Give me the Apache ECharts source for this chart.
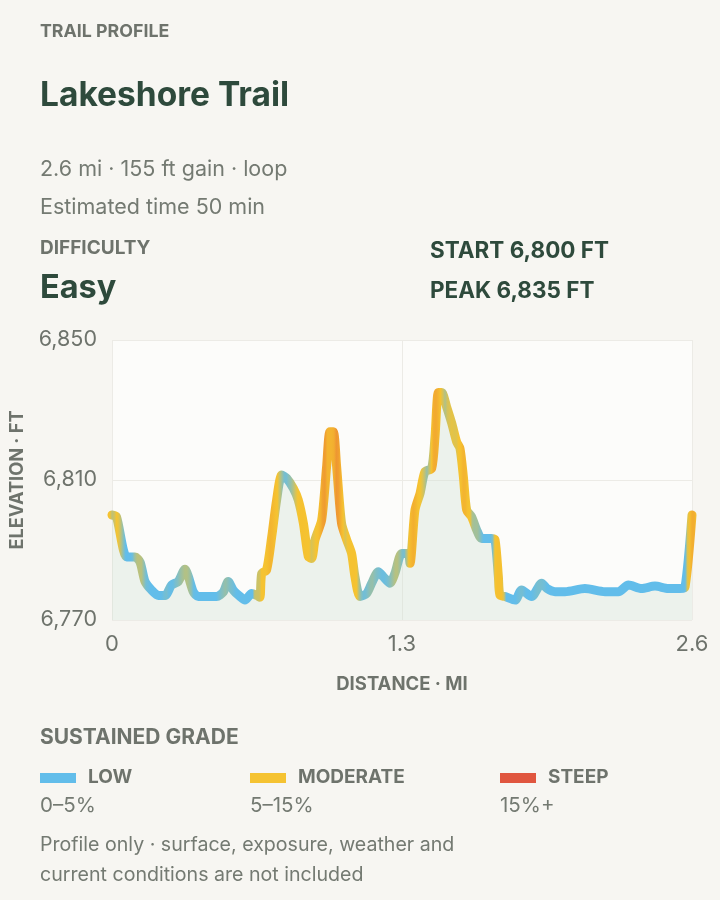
<!DOCTYPE html>
<html>
<head>
<meta charset="utf-8">
<script src="https://cdn.jsdelivr.net/npm/echarts@6/dist/echarts.min.js"></script>
<style>
html,body{margin:0;padding:0;background:#f7f6f2;}
#c{width:720px;height:900px;}
</style>
</head>
<body>
<div id="c"></div>
<script>
// distance along trail (mi)
const distance = [0.000,0.020,0.066,0.103,0.126,0.148,0.178,0.208,0.238,0.267,0.297,0.327,0.342,0.365,0.387,0.432,0.469,0.499,0.521,0.544,0.574,0.596,0.626,0.650,0.663,0.671,0.693,0.716,0.738,0.761,0.783,0.813,0.835,0.858,0.880,0.895,0.910,0.940,0.962,0.977,0.992,1.007,1.029,1.052,1.074,1.089,1.112,1.142,1.164,1.194,1.216,1.246,1.268,1.299,1.328,1.336,1.358,1.381,1.403,1.433,1.448,1.463,1.478,1.500,1.523,1.545,1.560,1.575,1.590,1.612,1.635,1.657,1.701,1.717,1.732,1.739,1.762,1.807,1.836,1.881,1.926,1.950,1.986,2.031,2.120,2.210,2.270,2.315,2.374,2.434,2.494,2.546,2.569,2.600];
// elevation (ft)
const elevation = [6800,6799.5,6788,6788,6786.5,6781,6778.5,6777,6777,6780,6781,6784.5,6782.5,6778,6776.7,6776.7,6776.7,6778,6781,6778.5,6776.7,6775.7,6777.6,6777,6776.5,6783.3,6784.3,6793.8,6804.3,6811.4,6810.5,6807.6,6804.3,6797.6,6788.1,6787.6,6792.9,6798.6,6813.8,6823.8,6823.8,6813.8,6797.6,6792.9,6789,6782.4,6776.7,6777.6,6780.5,6783.8,6782.4,6780.5,6783.3,6789,6789,6786.2,6801.4,6806.2,6812.4,6813.3,6822.4,6835,6835,6830.9,6826.2,6820.9,6819,6811,6801.4,6799.5,6795.7,6793.3,6793.3,6792.9,6782.4,6777.1,6776.7,6775.7,6778.6,6776.7,6780.5,6779,6778.1,6778.1,6779,6778.1,6778.1,6780,6779,6779.7,6779,6779,6779.5,6800];
const xTicks = [0, 1.3, 2.6];
const yTicks = [6770, 6810, 6850];
const gradeBands = [
  {name:'LOW', range:'0–5%', color:'#62bdea'},
  {name:'MODERATE', range:'5–15%', color:'#f5c332'},
  {name:'STEEP', range:'15%+', color:'#e0563f'}
];

// colour ramp for sustained grade (%)
const ramp = [[0,[98,189,234]],[1,[98,189,234]],[4.5,[245,196,50]],[7,[245,192,48]],[10.5,[240,160,48]],[18,[224,86,63]]];
function gradeColor(g){
  if(g<=ramp[0][0]) return 'rgb('+ramp[0][1].join(',')+')';
  for(let i=1;i<ramp.length;i++){
    if(g<=ramp[i][0]){
      const t=(g-ramp[i-1][0])/(ramp[i][0]-ramp[i-1][0]);
      const a=ramp[i-1][1], b=ramp[i][1];
      return 'rgb('+a.map((v,k)=>Math.round(v+(b[k]-v)*t)).join(',')+')';
    }
  }
  return 'rgb('+ramp[ramp.length-1][1].join(',')+')';
}
const total = distance[distance.length-1];
// loop trail: positions wrap around start/end
function elevAt(d){
  if(d<0) d+=total;
  if(d>total) d-=total;
  for(let i=1;i<distance.length;i++){
    if(d<=distance[i]){
      const t=(d-distance[i-1])/(distance[i]-distance[i-1]);
      return elevation[i-1]+(elevation[i]-elevation[i-1])*t;
    }
  }
  return elevation[elevation.length-1];
}
// sustained grade: mean absolute slope within a window around each position
const W = 0.022, STEP = 0.0025;
const stops = [];
for(let k=0; k<=260; k++){
  const d = k*total/260;
  let absChange=0;
  for(let s=d-W; s<d+W-1e-9; s+=STEP){
    const s2=Math.min(d+W,s+STEP);
    absChange+=Math.abs(elevAt(s2)-elevAt(s));
  }
  const g=absChange/(2*W*5280)*100;
  stops.push({offset:k/260, color:gradeColor(g)});
}

const chart = echarts.init(document.getElementById('c'), null, {renderer:'canvas'});
const FONT = 'Inter, "Noto Sans", sans-serif';
const GREY = '#6e736c', DARK = '#2e4a3c', SUB = '#747a72';
const graphics = [];
function txt(text,x,y,size,weight,fill){
  graphics.push({type:'text', x:x, y:y, style:{text:text, fontSize:size, fontWeight:weight, fontFamily:FONT, fill:fill, verticalAlign:'middle', align:'left'}});
}
txt('TRAIL PROFILE',40,32,17.8,'bold',GREY);
txt('Lakeshore Trail',40,96,33.5,'bold',DARK);
txt('2.6 mi · 155 ft gain · loop',40,170,21.5,'normal',SUB);
txt('Estimated time 50 min',40,208,21.5,'normal',SUB);
txt('DIFFICULTY',40,248,19,'bold',GREY);
txt('Easy',40,288,32.5,'bold',DARK);
txt('START 6,800 FT',430,251,22.5,'bold',DARK);
txt('PEAK 6,835 FT',430,291,22.5,'bold',DARK);
txt('SUSTAINED GRADE',40,738,21,'bold',GREY);
const legendX = [40, 250, 500];
gradeBands.forEach((b,i)=>{
  const x0 = legendX[i];
  graphics.push({type:'rect', shape:{x:x0, y:773, width:36, height:10}, style:{fill:b.color}});
  txt(b.name, x0+48, 777, 19, 'bold', GREY);
  txt(b.range, x0, 806, 20.5, 'normal', SUB);
});
txt('Profile only · surface, exposure, weather and',40,845,19.6,'normal',SUB);
txt('current conditions are not included',40,875,19.6,'normal',SUB);

chart.setOption({
  backgroundColor:'#f7f6f2',
  animation:false,
  grid:{left:112, right:28, top:340, bottom:280, show:true, backgroundColor:'#fcfcfa', borderWidth:0},
  xAxis:{
    type:'value', min:0, max:2.6, interval:1.3,
    name:'DISTANCE · MI', nameLocation:'middle', nameGap:55,
    nameTextStyle:{fontSize:18.5, fontWeight:'bold', color:GREY, fontFamily:FONT},
    axisLine:{show:false}, axisTick:{show:false},
    axisLabel:{fontSize:22, color:GREY, fontFamily:FONT, margin:13, formatter:v=>String(Math.round(v*10)/10)},
    splitLine:{show:true, lineStyle:{color:'#ecebe6', width:1}}
  },
  yAxis:{
    type:'value', min:6770, max:6850,
    name:'ELEVATION · FT', nameLocation:'middle', nameGap:85,
    nameTextStyle:{fontSize:18.2, fontWeight:'bold', color:GREY, fontFamily:FONT},
    axisLine:{show:false},
    axisTick:{show:false, customValues:yTicks},
    axisLabel:{fontSize:21.5, color:GREY, fontFamily:FONT, margin:15, customValues:yTicks, formatter:v=>v.toLocaleString('en-US')},
    splitLine:{show:true, lineStyle:{color:'#ecebe6', width:1}}
  },
  graphic: graphics,
  series:[{
    type:'line',
    data: distance.map((d,i)=>[d, elevation[i]]),
    showSymbol:false,
    smooth:0.25,
    lineStyle:{width:9, cap:'round', join:'round', color:{type:'linear', x:0, y:0, x2:1, y2:0, colorStops:stops}},
    areaStyle:{color:'rgba(206,225,211,0.5)', origin:'start'},
    z:3
  }]
});
</script>
</body>
</html>
